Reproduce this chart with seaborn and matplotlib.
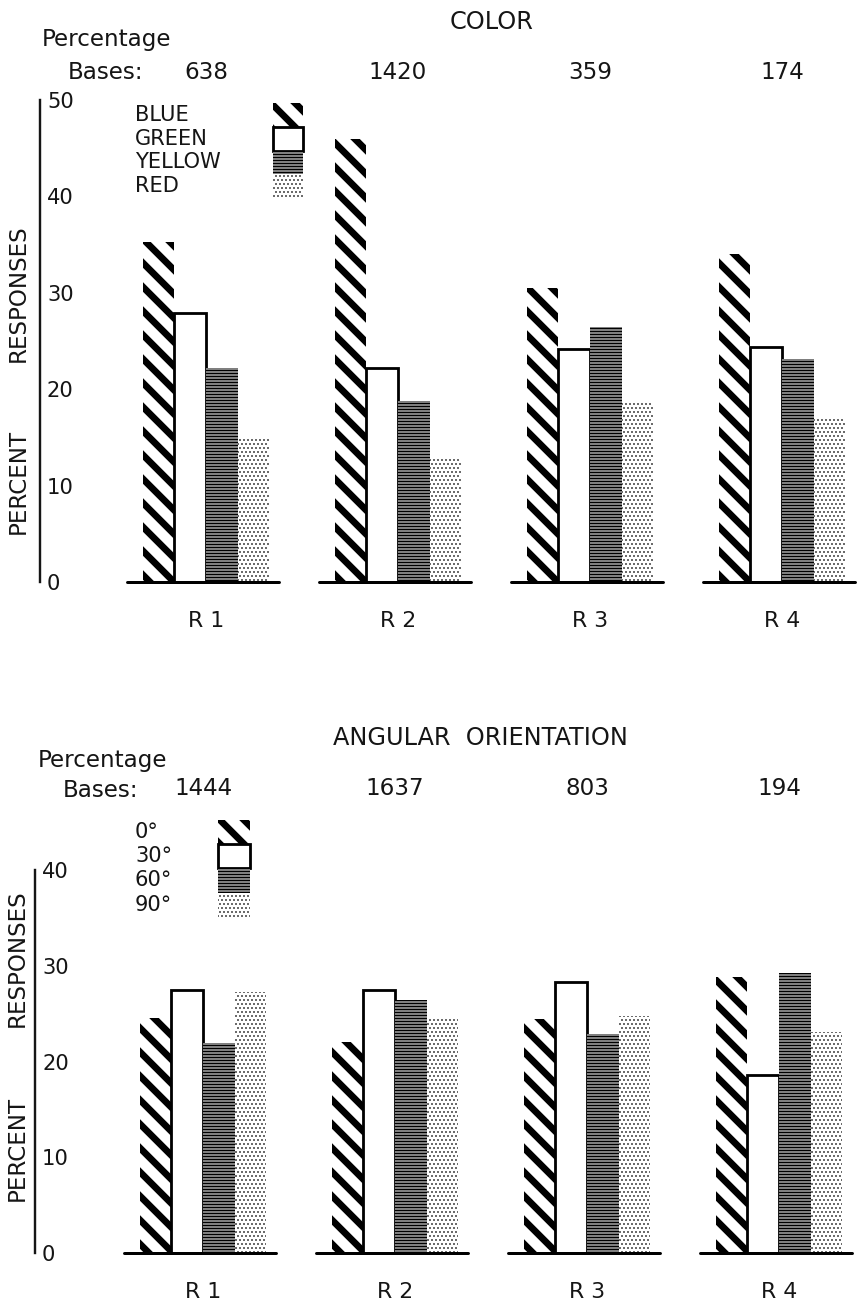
import matplotlib
matplotlib.use("Agg")

import matplotlib.pyplot as plt
import pandas as pd
import seaborn as sns
from matplotlib.patches import Rectangle


groups = ["R 1", "R 2", "R 3", "R 4"]

color_levels = ["BLUE", "GREEN", "YELLOW", "RED"]
color_blue = [35.3, 46.0, 30.5, 34.0]
color_green = [27.9, 22.2, 24.2, 24.4]
color_yellow = [22.2, 18.8, 26.5, 23.1]
color_red = [14.8, 12.8, 18.7, 17.1]
color_bases = ["638", "1420", "359", "174"]

angle_levels = ["0°", "30°", "60°", "90°"]
angle_0 = [24.5, 22.0, 24.4, 28.8]
angle_30 = [27.5, 27.5, 28.3, 18.6]
angle_60 = [21.9, 26.4, 22.9, 29.2]
angle_90 = [27.3, 24.4, 24.7, 23.1]
angle_bases = ["1444", "1637", "803", "194"]

W, H, DPI = 859, 1305, 72
INK = "#151515"

# one look per hue position: stripes, open box, ruled lines, stipple
STYLES = [
    dict(face="white", edge="black", hatch="\\", lw=0, hatch_lw=6.8),
    dict(face="white", edge="black", hatch=None, lw=2.8, hatch_lw=1.0),
    dict(face="white", edge="black", hatch="----", lw=0, hatch_lw=2.0),
    dict(face="white", edge="#3a3a3a", hatch="...", lw=0, hatch_lw=1.1),
]


def fx(px):
    return px / W


def fy(py):
    return 1 - py / H


def style_patch(p, st):
    p.set_facecolor(st["face"])
    p.set_edgecolor(st["edge"])
    p.set_linewidth(st["lw"])
    if st["hatch"]:
        p.set_hatch(st["hatch"])
        if hasattr(p, "set_hatch_linewidth"):
            p.set_hatch_linewidth(st["hatch_lw"])


def long_frame(levels, series):
    rows = []
    for level, vals in zip(levels, series):
        for g, v in zip(groups, vals):
            rows.append({"group": g, "level": level, "pct": v})
    return pd.DataFrame(rows)


def draw_panel(fig, box, x0_px, step_px, df, levels, ymax):
    left, top, right, bottom = box
    ax = fig.add_axes([fx(left), fy(bottom), (right - left) / W, (bottom - top) / H])
    sns.barplot(data=df, x="group", y="pct", hue="level", order=groups,
                hue_order=levels, width=0.66, errorbar=None, legend=False,
                palette=["white"] * len(levels), saturation=1, ax=ax)
    for container, st in zip(ax.containers, STYLES):
        for p in container:
            style_patch(p, st)

    # short base line under each group of bars
    for i in range(len(groups)):
        ax.plot([i - 0.41, i + 0.38], [0, 0], color="black", lw=3,
                clip_on=False, zorder=5, solid_capstyle="round")

    ax.set_xlim((left - x0_px) / step_px, (right - x0_px) / step_px)
    ax.set_ylim(0, ymax)
    ax.set_xlabel("")
    ax.set_ylabel("")
    for side in ["top", "right", "bottom"]:
        ax.spines[side].set_visible(False)
    ax.spines["left"].set_bounds(0, ymax)
    ax.spines["left"].set_linewidth(2.4)
    ax.spines["left"].set_color(INK)

    ax.set_yticks(range(0, ymax + 1, 10))
    ax.tick_params(axis="y", direction="in", length=3, width=2, pad=-7,
                   labelsize=21, colors=INK)
    for lbl in ax.get_yticklabels():
        lbl.set_horizontalalignment("left")
    ax.tick_params(axis="x", length=0, pad=29, labelsize=22, colors=INK)
    ax.patch.set_alpha(0)
    return ax


def add_bases(ax, bases, offset):
    for i, b in enumerate(bases):
        ax.annotate(b, xy=(i, 1), xycoords=("data", "axes fraction"),
                    xytext=(0, offset), textcoords="offset points",
                    ha="center", va="baseline", fontsize=23, color=INK)


def add_key(fig, levels, text_x, box_x, box_top, row_h, box_w):
    for k, (level, st) in enumerate(zip(levels, STYLES)):
        y0 = box_top + k * row_h
        rect = Rectangle((fx(box_x), fy(y0 + row_h)), box_w / W, row_h / H,
                         transform=fig.transFigure)
        style_patch(rect, st)
        fig.add_artist(rect)
        fig.text(fx(text_x), fy(y0 + row_h / 2), level, ha="left",
                 va="center", fontsize=21, color=INK)


sns.set_style("white")
plt.rcParams["font.family"] = ["DejaVu Sans"]
plt.rcParams["hatch.linewidth"] = 2.0

fig = plt.figure(figsize=(W / DPI, H / DPI), dpi=DPI)

# ---- COLOR panel
color_df = long_frame(color_levels, [color_blue, color_green, color_yellow, color_red])
ax1 = draw_panel(fig, (40, 100, 859, 582), 206, 192, color_df, color_levels, 50)
add_bases(ax1, color_bases, 21)
fig.text(fx(492), fy(29), "COLOR", ha="center", va="baseline", fontsize=24, color=INK)
fig.text(fx(42), fy(46), "Percentage", ha="left", va="baseline", fontsize=23, color=INK)
fig.text(fx(68), fy(79), "Bases:", ha="left", va="baseline", fontsize=23, color=INK)
add_key(fig, color_levels, 135, 273, 103, 23.8, 30)
fig.text(fx(18), fy(293), "RESPONSES", rotation=90, ha="center", va="center",
         fontsize=23, color=INK)
fig.text(fx(18), fy(481), "PERCENT", rotation=90, ha="center", va="center",
         fontsize=23, color=INK)

# ---- ANGULAR ORIENTATION panel
angle_df = long_frame(angle_levels, [angle_0, angle_30, angle_60, angle_90])
ax2 = draw_panel(fig, (35, 870, 859, 1253), 203, 192, angle_df, angle_levels, 40)
add_bases(ax2, angle_bases, 75)
fig.text(fx(480), fy(745), "ANGULAR  ORIENTATION", ha="center", va="baseline",
         fontsize=24, color=INK)
fig.text(fx(38), fy(767), "Percentage", ha="left", va="baseline", fontsize=23, color=INK)
fig.text(fx(63), fy(797), "Bases:", ha="left", va="baseline", fontsize=23, color=INK)
add_key(fig, angle_levels, 135, 218, 820, 24.2, 32)
fig.text(fx(17), fy(958), "RESPONSES", rotation=90, ha="center", va="center",
         fontsize=23, color=INK)
fig.text(fx(17), fy(1148), "PERCENT", rotation=90, ha="center", va="center",
         fontsize=23, color=INK)

fig.savefig("out.png", dpi=DPI)
